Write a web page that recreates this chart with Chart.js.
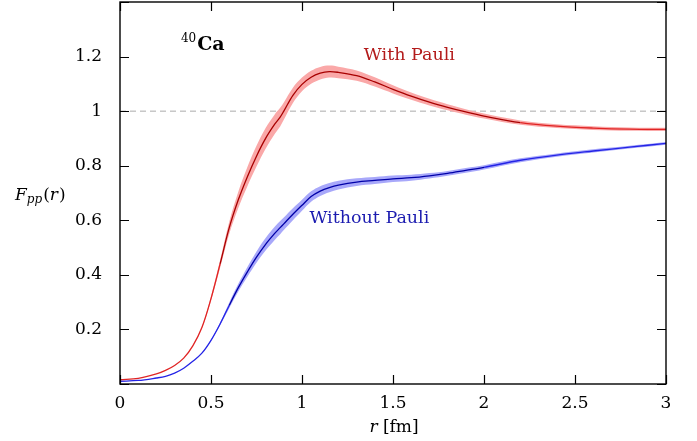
<!DOCTYPE html>
<html>
<head>
<meta charset="utf-8">
<script src="https://cdn.jsdelivr.net/npm/chart.js@4/dist/chart.umd.min.js"></script>
<style>
  html, body { margin: 0; padding: 0; background: #fff; }
  #wrap { width: 697px; height: 441px; }
</style>
</head>
<body>
<div id="wrap"><canvas id="chart" width="697" height="441"></canvas></div>
<script>
// r grid (fm)
const rValues = [0, 0.1, 0.2, 0.25, 0.3, 0.35, 0.4, 0.45, 0.5, 0.55, 0.6, 0.65, 0.7, 0.75, 0.8, 0.85, 0.88, 0.9,
  0.95, 1.0, 1.05, 1.1, 1.15, 1.2, 1.3, 1.4, 1.5, 1.6, 1.7, 1.8, 1.9, 2.0, 2.2, 2.4, 2.6, 2.8, 3.0];

// F_pp(r) with Pauli blocking
const withPauli = [0.016, 0.021, 0.037, 0.05, 0.068, 0.095, 0.14, 0.207, 0.313, 0.44, 0.572, 0.675, 0.76, 0.835,
  0.9, 0.952, 0.978, 1.0, 1.058, 1.098, 1.124, 1.139, 1.145, 1.142, 1.13, 1.107, 1.08, 1.055, 1.033, 1.014,
  0.997, 0.982, 0.958, 0.945, 0.938, 0.934, 0.933];
const withPauliErr = [0, 0, 0, 0, 0, 0, 0, 0.003, 0.008, 0.014, 0.022, 0.03, 0.035, 0.038, 0.038, 0.036, 0.034,
  0.032, 0.028, 0.025, 0.024, 0.023, 0.022, 0.021, 0.019, 0.017, 0.015, 0.013, 0.012, 0.011, 0.01, 0.009,
  0.008, 0.007, 0.007, 0.006, 0.006];

// F_pp(r) without Pauli blocking
const withoutPauli = [0.01, 0.013, 0.022, 0.028, 0.04, 0.058, 0.083, 0.113, 0.16, 0.22, 0.288, 0.353, 0.411, 0.465,
  0.512, 0.552, 0.573, 0.587, 0.622, 0.655, 0.687, 0.707, 0.72, 0.729, 0.74, 0.746, 0.752, 0.756, 0.763, 0.772,
  0.783, 0.794, 0.82, 0.839, 0.854, 0.868, 0.882];
const withoutPauliErr = [0, 0, 0, 0, 0, 0, 0, 0, 0.002, 0.005, 0.01, 0.014, 0.018, 0.021, 0.023, 0.024, 0.024,
  0.023, 0.022, 0.02, 0.019, 0.018, 0.017, 0.016, 0.014, 0.013, 0.012, 0.011, 0.01, 0.009, 0.009, 0.008,
  0.007, 0.006, 0.006, 0.005, 0.005];

const xTicks = [0, 0.5, 1, 1.5, 2, 2.5, 3];
const yTickLabels = ['0.2', '0.4', '0.6', '0.8', '1', '1.2'];

const SERIF = '"DejaVu Serif", "Liberation Serif", serif';

function pts(vals, errs, sign) {
  return rValues.map((r, i) => ({ x: r, y: vals[i] + sign * (errs ? errs[i] : 0) }));
}

function band(vals, errs, fillColor, order) {
  return [
    { data: pts(vals, errs, 1), borderWidth: 0, pointRadius: 0, fill: false, order: order, tension: 0.35 },
    { data: pts(vals, errs, -1), borderWidth: 0, pointRadius: 0, fill: '-1', backgroundColor: fillColor,
      order: order, tension: 0.35 }
  ];
}

function centerLine(vals, errs, dark, bright) {
  return {
    data: pts(vals, null, 0),
    borderWidth: 1.3,
    pointRadius: 0,
    fill: false,
    order: 1,
    tension: 0.35,
    borderColor: bright,
    segment: {
      borderColor: ctx => errs[ctx.p0DataIndex] > 0.008 ? dark : bright
    }
  };
}

// inward ticks on all four sides, frame and labels
const decor = {
  id: 'decor',
  afterDatasetsDraw(chart) {
    const { ctx, chartArea: a, scales } = chart;
    const xs = scales.x, ys = scales.y;
    ctx.save();
    ctx.strokeStyle = '#000';
    ctx.lineWidth = 1.2;
    ctx.beginPath();
    xTicks.forEach(v => {
      const px = Math.round(xs.getPixelForValue(v)) + 0.5;
      ctx.moveTo(px, a.bottom); ctx.lineTo(px, a.bottom - 9);
      ctx.moveTo(px, a.top); ctx.lineTo(px, a.top + 9);
    });
    ys.ticks.forEach(t => {
      const py = Math.round(ys.getPixelForValue(t.value)) + 0.5;
      ctx.moveTo(a.left, py); ctx.lineTo(a.left + 9, py);
      ctx.moveTo(a.right, py); ctx.lineTo(a.right - 9, py);
    });
    ctx.stroke();
    ctx.lineWidth = 1.4;
    ctx.strokeRect(a.left, a.top, a.right - a.left, a.bottom - a.top);

    // series labels, anchored in data coordinates
    ctx.textBaseline = 'middle';
    ctx.textAlign = 'center';
    ctx.font = '17.5px ' + SERIF;
    ctx.fillStyle = '#b31b1b';
    ctx.fillText('With Pauli', xs.getPixelForValue(1.59), ys.getPixelForValue(1.205));
    ctx.fillStyle = '#1c1cb0';
    ctx.fillText('Without Pauli', xs.getPixelForValue(1.37), ys.getPixelForValue(0.605));

    // 40Ca
    ctx.fillStyle = '#000';
    ctx.textAlign = 'left';
    ctx.textBaseline = 'alphabetic';
    const cx = xs.getPixelForValue(0.335), cy = ys.getPixelForValue(1.248) + 7;
    ctx.font = '12px ' + SERIF;
    ctx.fillText('40', cx, cy - 8);
    const w40 = ctx.measureText('40').width;
    ctx.font = 'bold 19px ' + SERIF;
    ctx.fillText('Ca', cx + w40 + 1, cy);

    // y axis title F_pp(r)
    let tx = a.left - 105, ty = (ys.getPixelForValue(0.8) + ys.getPixelForValue(0.6)) / 2 + 7;
    ctx.font = 'italic 17px ' + SERIF;
    ctx.fillText('F', tx, ty);
    tx += ctx.measureText('F').width;
    ctx.font = 'italic 12px ' + SERIF;
    ctx.fillText('pp', tx, ty + 3);
    tx += ctx.measureText('pp').width + 1;
    ctx.font = '17px ' + SERIF;
    ctx.fillText('(', tx, ty);
    tx += ctx.measureText('(').width;
    ctx.font = 'italic 17px ' + SERIF;
    ctx.fillText('r', tx, ty);
    tx += ctx.measureText('r').width + 1;
    ctx.font = '17px ' + SERIF;
    ctx.fillText(')', tx, ty);

    // x axis title r [fm]
    const part1 = 'r', part2 = ' [fm]';
    ctx.font = 'italic 17px ' + SERIF;
    const w1 = ctx.measureText(part1).width;
    ctx.font = '17px ' + SERIF;
    const w2 = ctx.measureText(part2).width;
    let bx = xs.getPixelForValue(1.5) - (w1 + w2) / 2 + 1;
    const by = a.bottom + 48;
    ctx.font = 'italic 17px ' + SERIF;
    ctx.fillText(part1, bx, by);
    ctx.font = '17px ' + SERIF;
    ctx.fillText(part2, bx + w1, by);
    ctx.restore();
  }
};

const datasets = [
  { data: [{ x: 0, y: 1 }, { x: 3, y: 1 }], borderColor: '#aaaaaa', borderWidth: 1, borderDash: [6, 4],
    pointRadius: 0, fill: false, order: 4 },
  ...band(withPauli, withPauliErr, 'rgb(250, 168, 168)', 3),
  ...band(withoutPauli, withoutPauliErr, 'rgb(168, 168, 250)', 3),
  centerLine(withPauli, withPauliErr, '#a80000', '#e02424'),
  centerLine(withoutPauli, withoutPauliErr, '#0000a8', '#2424e6')
];

new Chart(document.getElementById('chart'), {
  type: 'line',
  data: { datasets: datasets },
  options: {
    responsive: false,
    animation: false,
    layout: { padding: { top: 2, right: 31, left: 0, bottom: 0 } },
    plugins: { legend: { display: false }, tooltip: { enabled: false } },
    scales: {
      x: {
        type: 'linear',
        min: 0,
        max: 3,
        afterFit: s => { s.height = 57; s.paddingLeft = 0; s.paddingRight = 0; },
        afterBuildTicks: s => { s.ticks = xTicks.map(v => ({ value: v })); },
        grid: { display: false, drawTicks: false },
        border: { display: false },
        ticks: {
          padding: 9,
          color: '#000',
          font: { family: SERIF, size: 17 },
          maxRotation: 0,
          callback: v => String(v)
        }
      },
      y: {
        type: 'linear',
        min: 0,
        max: 1.4,
        afterFit: s => { s.width = 120; s.paddingTop = 0; s.paddingBottom = 0; },
        grid: { display: false, drawTicks: false },
        border: { display: false },
        ticks: {
          stepSize: 0.2,
          padding: 18,
          color: '#000',
          font: { family: SERIF, size: 17 },
          callback: v => {
            const i = Math.round(v * 5) - 1;
            return (i >= 0 && i < yTickLabels.length) ? yTickLabels[i] : '';
          }
        }
      }
    }
  },
  plugins: [decor]
});
</script>
</body>
</html>
